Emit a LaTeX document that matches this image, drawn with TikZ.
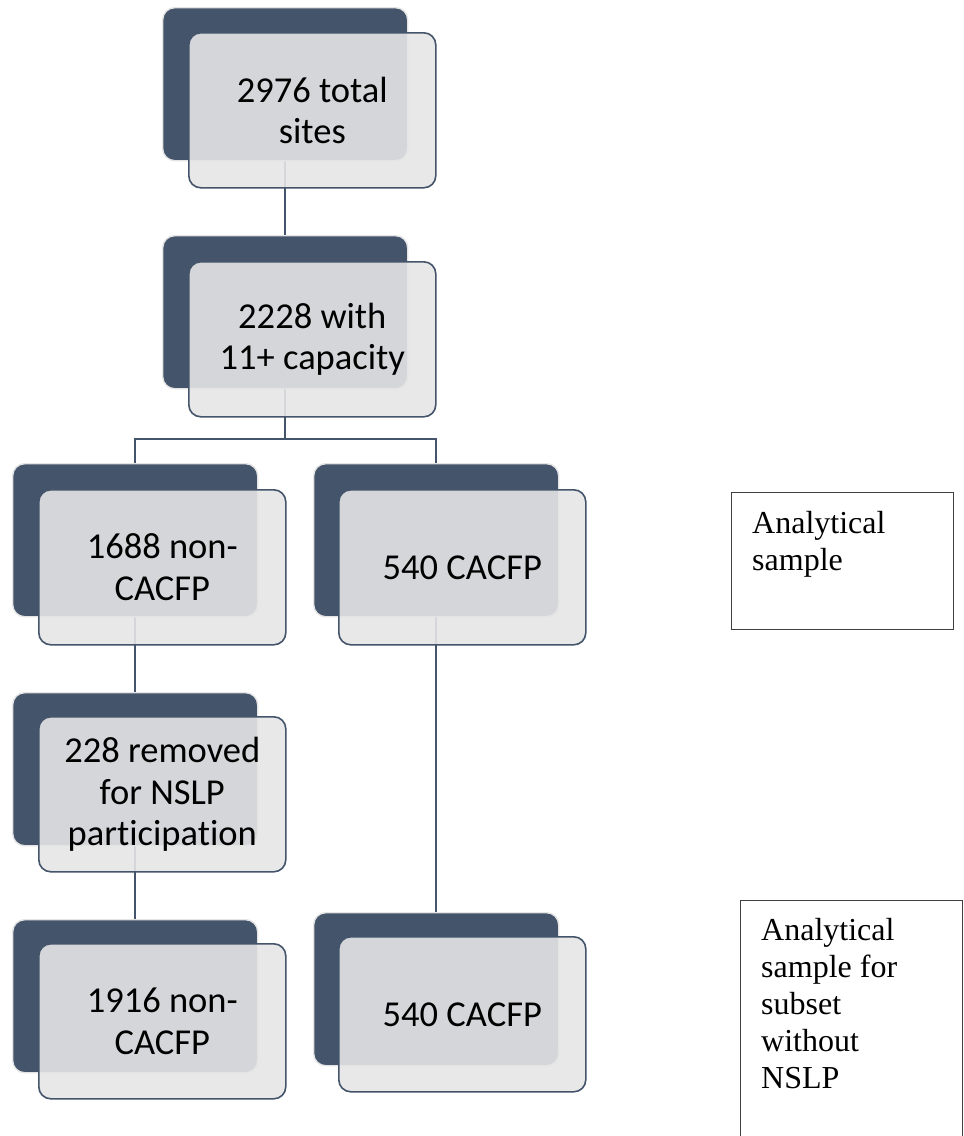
\documentclass[tikz,border=0pt]{standalone}
\usepackage{fontspec}
\setmainfont{Liberation Serif}
\newfontfamily\calibri[Ligatures={NoCommon}]{Carlito}
\usetikzlibrary{positioning}
\pgfdeclarelayer{bg}
\pgfsetlayers{bg,main}
\definecolor{slate}{HTML}{44546A}
\definecolor{frontgray}{RGB}{229,229,230}
\definecolor{rimgray}{RGB}{228,228,228}
\tikzset{
  darkbox/.style={rectangle, rounded corners=12pt, fill=slate, draw=rimgray, line width=1.4pt,
    minimum width=245pt, minimum height=153pt, anchor=north west, inner sep=0pt},
  frontbox/.style={rectangle, rounded corners=12pt, fill=frontgray, fill opacity=0.9, text opacity=1,
    draw=slate, line width=1.6pt, minimum width=247pt, minimum height=155pt, anchor=north west,
    inner sep=0pt, align=center, font=\calibri\fontsize{36.5}{41.5}\selectfont},
  link/.style={draw=slate, line width=1.8pt},
  notebox/.style={rectangle, draw=black!75, line width=1.1pt, anchor=north west, inner sep=0pt},
  notetext/.style={anchor=north west, inner sep=0pt, align=left, font=\fontsize{32}{37}\selectfont}
}
\begin{document}
\begin{tikzpicture}[x=1pt,y=-1pt]
\useasboundingbox (0,0) rectangle (964,1136);
% row 1
\node[darkbox] (d1) at (162,7) {};
\node[frontbox] (f1) at (188,32) {2976 total\\sites};
% row 2
\node[darkbox] (d2) at (162,235) {};
\node[frontbox] (f2) at (188,261) {2228 with\\11+ capacity};
% row 3
\node[darkbox] (d3l) at (12,463) {};
\node[frontbox] (f3l) at (38,489) {1688 non-\\CACFP};
\node[darkbox] (d3r) at (313,463) {};
\node[frontbox] (f3r) at (338,489) {540 CACFP};
% row 4
\node[darkbox] (d4l) at (12,692) {};
\node[frontbox] (f4l) at (38,716) {228 removed\\for NSLP\\participation};
% row 5
\node[darkbox] (d5l) at (12,919) {};
\node[frontbox] (f5l) at (38,943) {1916 non-\\CACFP};
\node[darkbox] (d5r) at (313,912) {};
\node[frontbox] (f5r) at (338,936) {540 CACFP};
% side notes
\node[notebox, minimum width=222pt, minimum height=137pt] (n1) at (731,492) {};
\node[notetext] (t1) at (752,511) {Analytical\\sample};
\node[notebox, minimum width=222pt, minimum height=260pt] (n2) at (740,900) {};
\node[notetext] (t2) at (761,918) {Analytical\\sample for\\subset\\without\\NSLP};
% connectors
\coordinate (split) at (d2.south |- 0,439);
\begin{pgfonlayer}{bg}
\draw[link] (d1.south) -- (d2.north);
\draw[link] (d2.south) -- (split);
\draw[link] (d3l.north) |- (split) -| (d3r.north);
\draw[link] (d3l.south) -- (d4l.north);
\draw[link] (d4l.south) -- (d5l.north);
\draw[link] (d3r.south) -- (d5r.north);
\end{pgfonlayer}
\end{tikzpicture}
\end{document}
